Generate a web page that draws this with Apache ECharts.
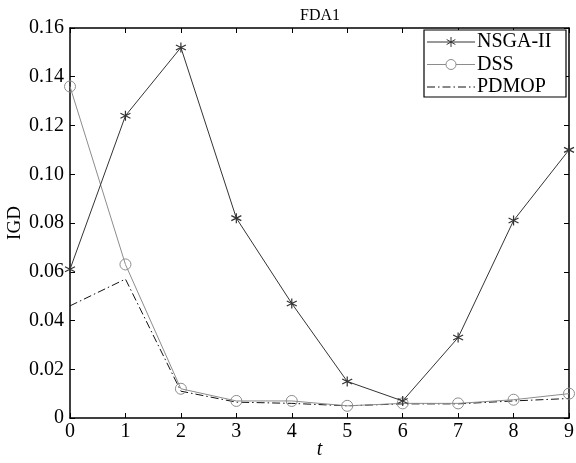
<!DOCTYPE html>
<html><head><meta charset="utf-8">
<script src="https://cdn.jsdelivr.net/npm/echarts@6/dist/echarts.min.js"></script>
<style>html,body{margin:0;padding:0;background:#fff}#c{width:576px;height:463px}</style>
</head><body><div id="c"></div>
<script>
const tValues = [0,1,2,3,4,5,6,7,8,9];
const nsga2 = [0.061,0.124,0.152,0.082,0.047,0.015,0.007,0.033,0.081,0.110];
const dss = [0.136,0.063,0.012,0.007,0.007,0.005,0.006,0.006,0.0075,0.010];
const pdmop = [0.046,0.057,0.011,0.0065,0.006,0.005,0.0058,0.0058,0.007,0.008];
const yTicks = [0,0.02,0.04,0.06,0.08,0.1,0.12,0.14,0.16];
const seriesNames = ['NSGA-II','DSS','PDMOP'];

const font = '"Liberation Serif", "Times New Roman", serif';
const star = 'path://M0,-1L0,1M-0.87,-0.5L0.87,0.5M-0.87,0.5L0.87,-0.5';
const cNs = '#333', cDss = '#8c8c8c', cPd = '#111';
const pair = arr => tValues.map((t,i)=>[t,arr[i]]);
const chart = echarts.init(document.getElementById('c'));
const axisCommon = {
  axisLine:{show:true,onZero:false,lineStyle:{color:'#000',width:1.5}},
  axisTick:{show:true,inside:true,length:5,lineStyle:{color:'#000',width:1}},
  splitLine:{show:false}
};
// legend drawn as graphic
const lx = 424, ly = 30, lw = 142, lh = 67, rowH = 22.5;
const legendEls = [{type:'rect',shape:{x:lx,y:ly,width:lw,height:lh},style:{fill:'#fff',stroke:'#000',lineWidth:1.2},z:100}];
seriesNames.forEach((n,i)=>{
  const cy = ly+12+i*rowH;
  const col = [cNs,cDss,cPd][i];
  legendEls.push({type:'line',shape:{x1:lx+3,y1:cy,x2:lx+51,y2:cy},
    style:{stroke:col,lineWidth:1,lineDash:i===2?[8,3,1.5,3]:null},z:101});
  if(i===0){
    const s=5;
    [[0,-1,0,1],[-0.87,-0.5,0.87,0.5],[-0.87,0.5,0.87,-0.5]].forEach(d=>{
      legendEls.push({type:'line',shape:{x1:lx+27+d[0]*s,y1:cy+d[1]*s,x2:lx+27+d[2]*s,y2:cy+d[3]*s},style:{stroke:col,lineWidth:1},z:102});
    });
  }
  if(i===1){
    legendEls.push({type:'circle',shape:{cx:lx+27,cy:cy,r:5},style:{fill:'#fff',stroke:col,lineWidth:1},z:102});
  }
  legendEls.push({type:'text',x:lx+53,y:cy,style:{text:n,font:'20px '+font,fill:'#000',textVerticalAlign:'middle',verticalAlign:'middle'},z:102});
});
chart.setOption({
  animation:false,
  title:{text:'FDA1',left:315,textAlign:'center',top:3,textStyle:{fontFamily:font,fontSize:16,fontWeight:'normal',color:'#000'}},
  grid:{left:70,right:7,top:28,bottom:45,outerBoundsMode:'none',containLabel:false},
  xAxis:[
    Object.assign({type:'value',min:0,max:9,interval:1,position:'bottom',
      name:'t',nameLocation:'middle',nameGap:22,nameMoveOverlap:false,
      nameTextStyle:{fontFamily:font,fontStyle:'italic',fontSize:20,color:'#000'},
      axisLabel:{fontFamily:font,fontSize:20,color:'#000',margin:4}},axisCommon),
    Object.assign({type:'value',min:0,max:9,interval:1,position:'top',axisLabel:{show:false}},axisCommon)
  ],
  yAxis:[
    Object.assign({type:'value',min:0,max:0.16,interval:0.02,position:'left',
      name:'IGD',nameLocation:'middle',nameGap:45,nameMoveOverlap:false,
      nameTextStyle:{fontFamily:font,fontSize:19,color:'#000'},
      axisLabel:{fontFamily:font,fontSize:20,color:'#000',margin:6,
        formatter:v=>{const k=yTicks.findIndex(x=>Math.abs(x-v)<1e-9);return k===0?'0':yTicks[k].toFixed(2);}}},axisCommon),
    Object.assign({type:'value',min:0,max:0.16,interval:0.02,position:'right',axisLabel:{show:false}},axisCommon)
  ],
  graphic:legendEls,
  series:[
    {name:'NSGA-II',type:'line',data:pair(nsga2),symbol:star,symbolSize:10,
      lineStyle:{color:cNs,width:1},
      itemStyle:{color:cNs,borderColor:cNs,borderWidth:1.2},z:3},
    {name:'DSS',type:'line',data:pair(dss),symbol:'circle',symbolSize:11,
      lineStyle:{color:cDss,width:1},
      itemStyle:{color:'rgba(255,255,255,0)',borderColor:cDss,borderWidth:1},z:2},
    {name:'PDMOP',type:'line',data:pair(pdmop),symbol:'none',showSymbol:false,
      lineStyle:{color:cPd,width:1,type:[8,3,1.5,3]},z:1}
  ]
});
</script></body></html>
